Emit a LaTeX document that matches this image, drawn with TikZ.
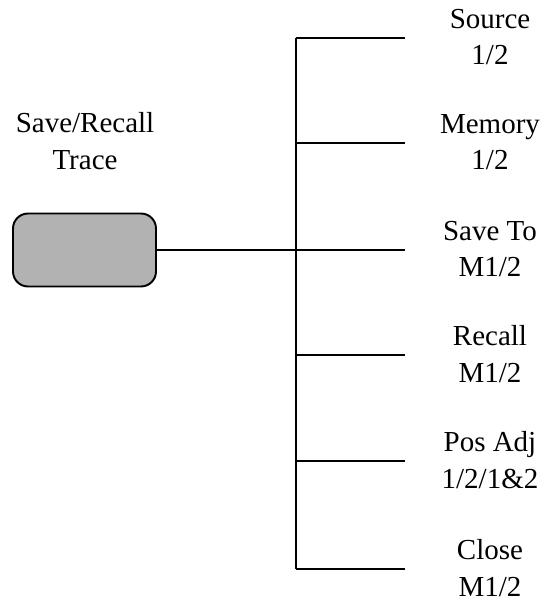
\documentclass[tikz,border=0pt]{standalone}
\usepackage{fontspec}
\setmainfont{Liberation Serif}
\usetikzlibrary{calc}

\tikzset{
  softkey/.style={draw,line width=1.1pt,fill=black!30,rounded corners=0.3cm,
    minimum width=2.86cm,minimum height=1.46cm,inner sep=0pt},
  keylabel/.style={align=center,inner sep=0pt,font=\fontsize{16.5}{20.6}\selectfont},
  tree/.style={line width=1.1pt}
}

\begin{document}
\begin{tikzpicture}[x=0.02cm,y=-0.02cm]
  \useasboundingbox (0,0) rectangle (548,607);
  \node[softkey] (key) at (84.5,250) {};
  \node[keylabel] (title) at (85,141) {Save/Recall\\Trace};
  \foreach \y/\a/\b [count=\i] in {38/Source/{1/2},143/Memory/{1/2},250/Save To/{M1/2},
      355/Recall/{M1/2},461/Pos Adj/{1/2/1\&2},569/Close/{M1/2}} {
    \coordinate (s\i) at (296,\y);
    \coordinate (e\i) at (405,\y);
    \node[keylabel] (m\i) at (490,\y-1) {\a\\\b};
    \draw[tree] (s\i) -- (e\i);
  }
  \draw[tree] (s1) -- (s6);
  \draw[tree] (key.east) -- (s3);
\end{tikzpicture}
\end{document}
